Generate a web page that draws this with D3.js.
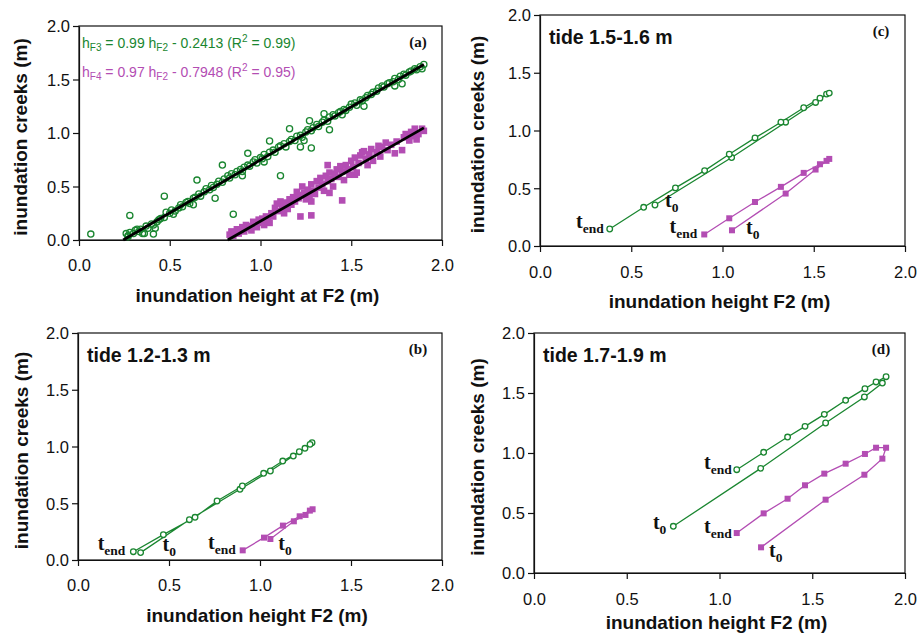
<!DOCTYPE html>
<html>
<head>
<meta charset="utf-8">
<script src="https://cdn.jsdelivr.net/npm/d3@7"></script>
<style>
  body { margin: 0; background: #fff; }
  svg text { font-family: "Liberation Sans", Arial, sans-serif; fill: #111; }
</style>
</head>
<body>
<svg id="chart" width="918" height="633"></svg>
<script>
// ---------- data ----------
const axisTicks = [0, 0.5, 1.0, 1.5, 2.0];

// (a) all measurements: F2 height vs creek F3 (circles) and F4 (squares)
const allF3 = [
  [0.065,0.055],[0.26,0.06],[0.27,0.03],[0.28,0.23],[0.36,0.06],[0.41,0.055],[0.42,0.11],
  [0.47,0.41],[0.65,0.56],[0.75,0.39],[0.79,0.70],[0.85,0.24],[0.93,0.81],[1.05,0.925],
  [1.11,0.60],[1.16,1.04],[1.22,0.87],[1.28,0.86],[1.27,1.115],[1.35,1.18],[1.38,1.03],
  [1.57,1.25],[1.74,1.44],[1.78,1.46],
  [0.27,0.04],[0.28,0.07],[0.30,0.06],[0.31,0.09],[0.32,0.10],[0.33,0.08],[0.34,0.10],[0.35,0.06],
  [0.37,0.13],[0.38,0.11],[0.40,0.15],[0.41,0.14],[0.43,0.17],[0.44,0.19],[0.45,0.20],[0.47,0.21],
  [0.48,0.26],[0.50,0.25],[0.51,0.28],[0.52,0.24],[0.53,0.27],[0.55,0.30],[0.56,0.33],[0.57,0.31],
  [0.59,0.35],[0.60,0.36],[0.61,0.34],[0.63,0.39],[0.63,0.33],[0.64,0.40],[0.66,0.43],[0.67,0.41],
  [0.69,0.45],[0.70,0.48],[0.72,0.47],[0.73,0.51],[0.74,0.49],[0.76,0.52],[0.77,0.55],[0.79,0.54],
  [0.80,0.57],[0.82,0.60],[0.83,0.58],[0.84,0.62],[0.86,0.61],[0.87,0.64],[0.89,0.66],[0.90,0.64],
  [0.90,0.60],[0.91,0.68],[0.93,0.70],[0.94,0.69],[0.96,0.73],[0.97,0.75],[0.98,0.72],[1.00,0.77],
  [1.01,0.76],[1.02,0.80],[1.02,0.73],[1.04,0.78],[1.05,0.82],[1.07,0.84],[1.08,0.82],[1.10,0.87],
  [1.11,0.88],[1.13,0.90],[1.14,0.87],[1.16,0.92],[1.17,0.94],[1.19,0.93],[1.20,0.97],[1.22,0.98],
  [1.23,0.96],[1.24,0.93],[1.25,1.01],[1.26,1.03],[1.28,1.02],[1.29,1.05],[1.31,1.08],[1.32,1.06],
  [1.34,1.10],[1.35,1.12],[1.37,1.11],[1.38,1.15],[1.40,1.17],[1.41,1.16],[1.43,1.19],[1.44,1.20],
  [1.45,1.17],[1.46,1.22],[1.47,1.21],[1.49,1.24],[1.50,1.27],[1.52,1.28],[1.53,1.26],[1.55,1.31],
  [1.56,1.30],[1.58,1.33],[1.59,1.35],[1.61,1.36],[1.62,1.38],[1.64,1.39],[1.65,1.42],[1.67,1.44],
  [1.68,1.43],[1.70,1.46],[1.71,1.47],[1.73,1.48],[1.74,1.51],[1.76,1.50],[1.77,1.53],[1.79,1.55],
  [1.80,1.54],[1.82,1.57],[1.83,1.58],[1.85,1.60],[1.86,1.59],[1.88,1.62],[1.89,1.60],[1.90,1.64]
];
const allF4 = [
  [0.83,0.05],[0.84,0.08],[0.85,0.04],[0.86,0.07],[0.87,0.10],[0.88,0.06],[0.89,0.09],[0.90,0.12],
  [0.91,0.08],[0.92,0.14],[0.93,0.11],[0.94,0.13],[0.95,0.09],[0.96,0.17],[0.97,0.15],[0.98,0.12],
  [0.99,0.19],[1.00,0.16],[1.01,0.20],[1.02,0.14],[1.03,0.22],[1.04,0.18],[1.05,0.16],[1.06,0.25],
  [1.07,0.22],[1.08,0.30],[1.09,0.34],[1.10,0.27],[1.11,0.36],[1.12,0.31],[1.13,0.25],[1.14,0.35],
  [1.15,0.29],[1.16,0.38],[1.17,0.33],[1.18,0.40],[1.19,0.36],[1.20,0.45],[1.21,0.39],[1.22,0.42],
  [1.22,0.22],[1.23,0.50],[1.24,0.44],[1.25,0.38],[1.26,0.47],[1.27,0.41],[1.28,0.52],[1.28,0.23],
  [1.28,0.36],[1.29,0.46],[1.30,0.43],[1.31,0.55],[1.32,0.49],[1.33,0.58],[1.34,0.52],[1.35,0.46],
  [1.36,0.60],[1.37,0.55],[1.37,0.70],[1.38,0.63],[1.38,0.44],[1.39,0.57],[1.40,0.50],[1.41,0.62],
  [1.42,0.66],[1.43,0.59],[1.44,0.69],[1.45,0.64],[1.45,0.37],[1.46,0.56],[1.47,0.70],[1.48,0.66],
  [1.49,0.61],[1.50,0.74],[1.51,0.68],[1.52,0.77],[1.52,0.61],[1.53,0.63],[1.54,0.72],[1.55,0.79],
  [1.56,0.82],[1.57,0.83],[1.58,0.76],[1.59,0.70],[1.60,0.80],[1.61,0.85],[1.62,0.74],[1.64,0.82],
  [1.65,0.88],[1.66,0.78],[1.67,0.87],[1.69,0.91],[1.70,0.84],[1.72,0.89],[1.74,0.81],[1.75,0.92],
  [1.78,0.84],[1.79,0.96],[1.80,0.99],[1.82,0.93],[1.83,1.01],[1.84,0.97],[1.85,1.04],[1.86,0.94],
  [1.87,0.99],[1.89,1.04],[1.90,1.02]
];
const fitSlope = [0.99, 0.97];
const fitIntercept = [-0.2413, -0.7948];
const fitStart = [0.2437, 0.8194];
const fitEnd = [1.9, 1.9];

// (b) tide 1.2-1.3 m, time order t0 -> tend
const tideB_F3 = [
  [0.344,0.065],[0.612,0.355],[0.89,0.623],[1.057,0.784],[1.183,0.916],[1.247,0.984],[1.286,1.033],
  [1.275,1.019],[1.216,0.954],[1.125,0.872],[1.02,0.764],[0.903,0.652],[0.764,0.52],[0.643,0.376],
  [0.469,0.223],[0.304,0.073]
];
const tideB_F4 = [
  [1.057,0.185],[1.186,0.341],[1.25,0.397],[1.289,0.447],[1.274,0.435],[1.218,0.385],[1.126,0.303],
  [1.022,0.197],[0.905,0.085]
];

// (c) tide 1.5-1.6 m
const tideC_F3 = [
  [0.63,0.355],[1.05,0.766],[1.346,1.072],[1.51,1.243],[1.57,1.315],[1.585,1.324],[1.534,1.28],
  [1.445,1.197],[1.32,1.072],[1.178,0.936],[1.037,0.795],[0.902,0.653],[0.742,0.503],[0.568,0.335],
  [0.382,0.147]
];
const tideC_F4 = [
  [1.052,0.136],[1.346,0.454],[1.51,0.662],[1.57,0.737],[1.585,0.754],[1.534,0.708],[1.445,0.633],
  [1.32,0.512],[1.178,0.381],[1.037,0.24],[0.90,0.10]
];

// (d) tide 1.7-1.9 m
const tideD_F3 = [
  [0.751,0.389],[1.222,0.872],[1.572,1.25],[1.781,1.467],[1.878,1.583],[1.898,1.636],[1.844,1.592],
  [1.784,1.536],[1.68,1.439],[1.565,1.322],[1.461,1.222],[1.367,1.133],[1.238,1.006],[1.093,0.861]
];
const tideD_F4 = [
  [1.224,0.214],[1.572,0.611],[1.781,0.819],[1.878,0.953],[1.898,1.044],[1.844,1.044],[1.784,0.992],
  [1.68,0.911],[1.565,0.828],[1.461,0.731],[1.367,0.619],[1.238,0.497],[1.093,0.333]
];

// ---------- drawing ----------
const GREEN = '#1a8630';
const PURPLE = '#b34db3';
const svg = d3.select('#chart');
const fmt = d3.format('.1f');

const panels = [
  { id: 'a', box: [79, 442, 26, 240], xTitle: 'inundation height at F2 (m)', xLab: 271, xTitleY: 302, yTitleX: 20 },
  { id: 'c', box: [540, 905, 15, 246], xTitle: 'inundation height F2 (m)', xLab: 278, xTitleY: 308, yTitleX: 477,
    tide: 'tide 1.5-1.6 m', f3: tideC_F3, f4: tideC_F4,
    labels: [['f3', 'end', -6, -1], ['f3', '0', 10, 2], ['f4', 'end', -7, -1], ['f4', '0', 14, 4]] },
  { id: 'b', box: [78, 442, 333, 560], xTitle: 'inundation height F2 (m)', xLab: 591, xTitleY: 622, yTitleX: 21,
    tide: 'tide 1.2-1.3 m', f3: tideB_F3, f4: tideB_F4,
    labels: [['f3', 'end', -8, -2], ['f3', '0', 22, -2], ['f4', 'end', -7, -1], ['f4', '0', 8, 11]] },
  { id: 'd', box: [534, 905, 333, 573], xTitle: 'inundation height F2 (m)', xLab: 605, xTitleY: 629, yTitleX: 477,
    tide: 'tide 1.7-1.9 m', f3: tideD_F3, f4: tideD_F4,
    labels: [['f3', 'end', -5, -1], ['f3', '0', -7, 3, 'end'], ['f4', 'end', -5, 0], ['f4', '0', 8, 10]] }
];

panels.forEach(p => {
  const [x0, x1, y0, y1] = p.box;
  const x = d3.scaleLinear().domain([0, 2]).range([x0, x1]);
  const y = d3.scaleLinear().domain([0, 2]).range([y1, y0]);
  const g = svg.append('g');

  // frame
  g.append('rect')
    .attr('x', x0).attr('y', y0).attr('width', x1 - x0).attr('height', y1 - y0)
    .attr('fill', 'none').attr('stroke', '#111').attr('stroke-width', 1.2);

  // axes
  const xAxis = g.append('g')
    .attr('transform', `translate(0,${y1})`)
    .call(d3.axisBottom(x).tickValues(axisTicks).tickFormat(fmt).tickSize(6).tickSizeOuter(0));
  const yAxis = g.append('g')
    .attr('transform', `translate(${x0},0)`)
    .call(d3.axisLeft(y).tickValues(axisTicks).tickFormat(fmt).tickSize(6).tickSizeOuter(0));
  [xAxis, yAxis].forEach(a => {
    a.select('.domain').attr('stroke', '#111').attr('stroke-width', 1.2);
    a.selectAll('.tick line').attr('stroke', '#111').attr('stroke-width', 1.2);
    a.selectAll('.tick text')
      .attr('fill', '#222')
      .style('font-family', '"Liberation Sans", Arial, sans-serif')
      .style('font-size', '16.5px');
  });
  xAxis.selectAll('.tick text').attr('y', null).attr('dy', null)
    .attr('y', p.xLab - y1).attr('dominant-baseline', 'auto');
  yAxis.selectAll('.tick text').attr('x', -9).attr('dy', '0.36em');

  // axis titles
  g.append('text')
    .attr('x', (x0 + x1) / 2 - 3).attr('y', p.xTitleY)
    .attr('text-anchor', 'middle')
    .style('font-size', '19px').style('font-weight', 'bold')
    .text(p.xTitle);
  g.append('text')
    .attr('transform', `translate(${p.yTitleX + 7},${(y0 + y1) / 2 + 4}) rotate(-90)`)
    .attr('text-anchor', 'middle')
    .style('font-size', '19px').style('font-weight', 'bold')
    .text('inundation creeks (m)');

  // panel letter
  g.append('text')
    .attr('x', x1 - 24).attr('y', y0 + 21)
    .attr('text-anchor', 'middle')
    .style('font-family', '"Liberation Serif", "Times New Roman", serif')
    .style('font-size', '15px').style('font-weight', 'bold')
    .text(`(${p.id})`);

  if (p.id === 'a') {
    // scatter of all records
    g.append('g').selectAll('circle')
      .data(allF3).join('circle')
      .attr('cx', d => x(d[0])).attr('cy', d => y(d[1])).attr('r', 3.1)
      .attr('fill', 'none').attr('stroke', GREEN).attr('stroke-width', 1.3);
    g.append('g').selectAll('rect')
      .data(allF4).join('rect')
      .attr('x', d => x(d[0]) - 3.3).attr('y', d => y(d[1]) - 3.3)
      .attr('width', 6.6).attr('height', 6.6)
      .attr('fill', PURPLE);
    // regression lines
    fitSlope.forEach((s, i) => {
      g.append('line')
        .attr('x1', x(fitStart[i])).attr('y1', y(s * fitStart[i] + fitIntercept[i]))
        .attr('x2', x(fitEnd[i])).attr('y2', y(s * fitEnd[i] + fitIntercept[i]))
        .attr('stroke', '#000').attr('stroke-width', 2.8);
    });
    // equations
    const eqs = [
      { c: GREEN, y: 48, parts: [['h'], ['F3', 'sub'], [' = 0.99 h'], ['F2', 'sub'], [' - 0.2413 (R'], ['2', 'sup'], [' = 0.99)']] },
      { c: PURPLE, y: 77, parts: [['h'], ['F4', 'sub'], [' = 0.97 h'], ['F2', 'sub'], [' - 0.7948 (R'], ['2', 'sup'], [' = 0.95)']] }
    ];
    eqs.forEach(e => {
      const t = g.append('text').attr('x', 82).attr('y', e.y)
        .style('font-size', '14px');
      let shift = 0;
      e.parts.forEach(([s, kind]) => {
        const want = kind === 'sub' ? 3 : kind === 'sup' ? -6 : 0;
        t.append('tspan')
          .attr('dy', want - shift)
          .style('font-size', kind ? '10px' : '14px')
          .attr('fill', e.c)
          .text(s);
        shift = want;
      });
    });
    return;
  }

  // tide label
  g.append('text')
    .attr('x', x0 + 9).attr('y', y0 + 29)
    .style('font-size', '19.5px').style('font-weight', 'bold')
    .text(p.tide);

  const line = d3.line().x(d => x(d[0])).y(d => y(d[1]));
  g.append('path').datum(p.f3).attr('d', line)
    .attr('fill', 'none').attr('stroke', GREEN).attr('stroke-width', 1.3);
  g.append('path').datum(p.f4).attr('d', line)
    .attr('fill', 'none').attr('stroke', PURPLE).attr('stroke-width', 1.3);
  g.append('g').selectAll('circle')
    .data(p.f3).join('circle')
    .attr('cx', d => x(d[0])).attr('cy', d => y(d[1])).attr('r', 2.8)
    .attr('fill', '#fff').attr('stroke', GREEN).attr('stroke-width', 1.3);
  g.append('g').selectAll('rect')
    .data(p.f4).join('rect')
    .attr('x', d => x(d[0]) - 3).attr('y', d => y(d[1]) - 3)
    .attr('width', 6).attr('height', 6)
    .attr('fill', PURPLE);

  // t0 / tend labels
  p.labels.forEach(([s, sub, dx, dy, anchor]) => {
    const pts = p[s];
    const pt = sub === '0' ? pts[0] : pts[pts.length - 1];
    const anc = anchor || (sub === 'end' ? 'end' : 'start');
    const t = g.append('text')
      .attr('x', x(pt[0]) + dx).attr('y', y(pt[1]) + dy)
      .attr('text-anchor', anc)
      .style('font-family', '"Liberation Serif", "Times New Roman", serif')
      .style('font-weight', 'bold');
    t.append('tspan').style('font-size', '20px').text('t');
    t.append('tspan').attr('dy', 5).style('font-size', '13.5px').text(sub);
  });
});
</script>
</body>
</html>
